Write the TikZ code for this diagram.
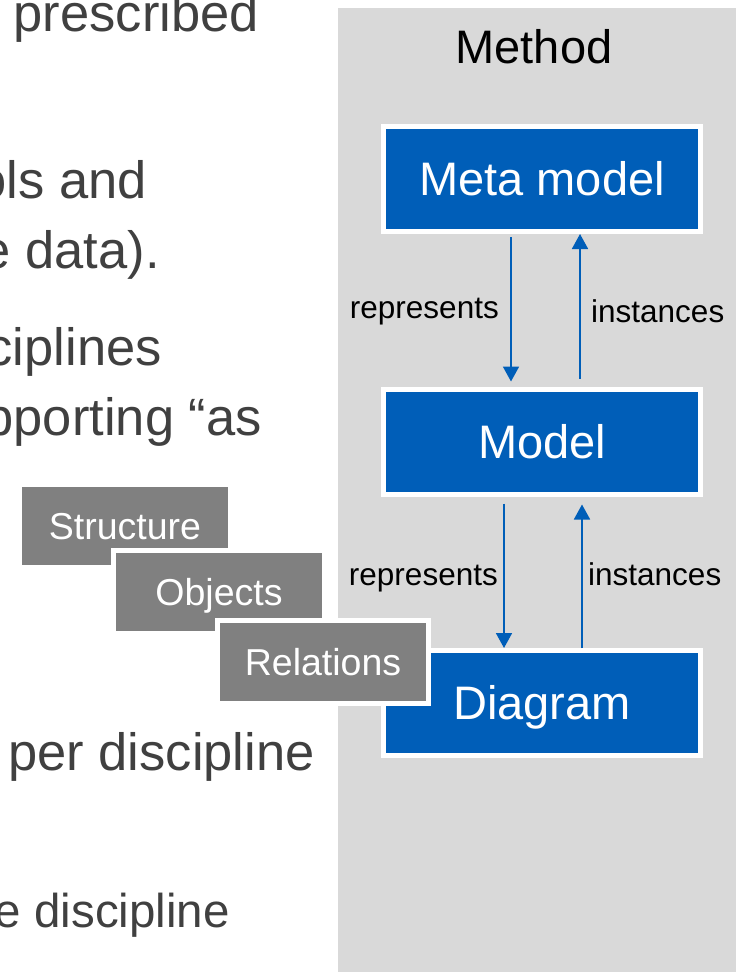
\documentclass[tikz,border=0pt]{standalone}
\usepackage{fontspec}
\setmainfont{Liberation Sans}
\usetikzlibrary{arrows.meta}
\definecolor{panelgray}{RGB}{217,217,217}
\definecolor{boxblue}{RGB}{0,94,184}
\definecolor{tilegray}{RGB}{128,128,128}
\definecolor{bodytext}{RGB}{64,64,64}

\begin{document}
\begin{tikzpicture}[x=1pt,y=-1pt,
  levelbox/.style={draw=white, line width=5pt, fill=boxblue, text=white,
    minimum width=317pt, minimum height=105pt, inner sep=0pt,
    font=\fontsize{47}{51}\selectfont, text height=33.6pt, text depth=0pt},
  tile/.style={draw=white, line width=5pt, fill=tilegray, text=white,
    minimum width=211pt, minimum height=83pt, inner sep=0pt,
    font=\fontsize{37.5}{41}\selectfont, text height=26.8pt, text depth=0pt},
  link/.style={draw=boxblue, line width=1.8pt, -{Triangle[width=16pt,length=15pt]}},
  linklabel/.style={inner sep=0pt, font=\fontsize{31.5}{34}\selectfont, text=black},
  bodyline/.style={inner sep=0pt, anchor=base east,
    font=\fontsize{52.5}{56}\selectfont, text=bodytext},
  subline/.style={bodyline, font=\fontsize{47.5}{52}\selectfont}]

\useasboundingbox (0,0) rectangle (736,972);

% side panel
\fill[panelgray] (338,8) rectangle (736,972);

% running text of the slide
\node[bodyline] (t1) at (259,31) {prescribed};
\node[bodyline] (t2) at (147,198) {ols and};
\node[bodyline] (t3) at (160,268) {e data).};
\node[bodyline] (t4) at (162,365) {ciplines};
\node[bodyline] (t5) at (262,435) {pporting “as};
\node[bodyline] (t6) at (315,770) {per discipline};
\node[subline] (t7) at (230,927) {e discipline};

% method column
\node[font=\fontsize{47}{51}\selectfont, anchor=base, inner sep=0pt] (title) at (534,63) {Method};

\node[levelbox] (meta) at (542,179) {Meta model};
\node[levelbox] (model) at (542,441.5) {Model};
\node[levelbox] (diagram) at (542,703) {Diagram};

\draw[link, shorten <=3pt, shorten >=5pt] ([xshift=-31pt]meta.south) -- ([xshift=-31pt]model.north);
\draw[link, shorten <=8pt] ([xshift=38pt]model.north) -- ([xshift=38pt]meta.south);
\draw[link, shorten <=7pt] ([xshift=-38pt]model.south) -- ([xshift=-38pt]diagram.north);
\draw[link, shorten >=8pt] ([xshift=40pt]diagram.north) -- ([xshift=40pt]model.south);

\node[linklabel, anchor=base east] (rep1) at (499,318) {represents};
\node[linklabel, anchor=base west] (inst1) at (591,322) {instances};
\node[linklabel, anchor=base east] (rep2) at (498,585) {represents};
\node[linklabel, anchor=base west] (inst2) at (588,585) {instances};

% stacked tiles
\node[tile] (structure) at (125,526) {Structure};
\node[tile] (objects) at (219,592) {Objects};
\node[tile] (relations) at (323,662) {Relations};
\end{tikzpicture}
\end{document}
